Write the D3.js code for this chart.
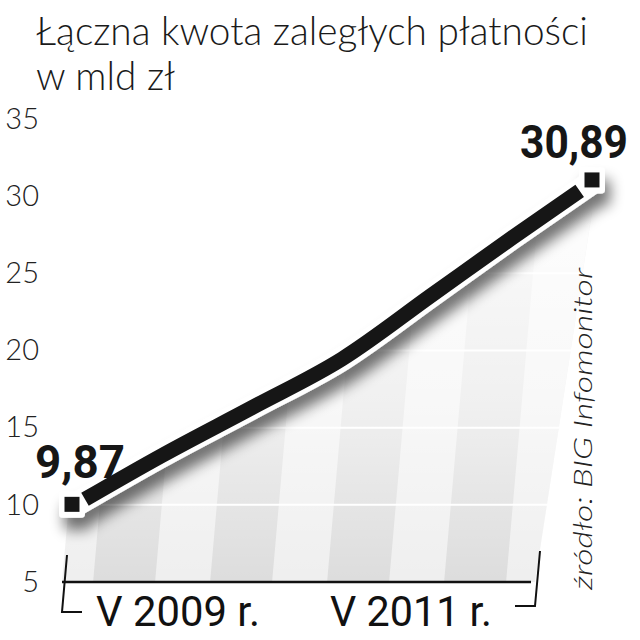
<!DOCTYPE html>
<html>
<head>
<meta charset="utf-8">
<script src="https://cdn.jsdelivr.net/npm/d3@7"></script>
<style>
  body { margin: 0; background: #fff; }
  svg { display: block; }
</style>
</head>
<body>
<div id="chart"></div>
<script>
// data (months counted from the first point)
var titleLines = ["Łączna kwota zaległych płatności", "w mld zł"];
var months = [0, 9, 18, 27, 36, 44, 52];
var values = [9.87, 13.2, 16.3, 19.45, 23.6, 27.3, 30.89];
var yTicks = [5, 10, 15, 20, 25, 30, 35];
var xTickMonths = [10.6, 33.9];
var xTickLabels = ["V 2009 r.", "V 2011 r."];
var valueLabels = ["9,87", "30,89"];
var sourceText = "źródło: BIG Infomonitor";

var width = 640,
    height = 640;

var font = "Roboto, 'Open Sans', sans-serif",
    lightFont = "Lato, Roboto, sans-serif";

var points = months.map(function(m, i){ return { m: m, v: values[i] }; });

var xScale = d3.scaleLinear().domain([0, 52]).range([72, 592]),
    yScale = d3.scaleLinear().domain([5, 35]).range([582, 119]);

var svg = d3.select("#chart").append("svg")
    .attr("width", width)
    .attr("height", height)
    .style("font-family", font);

var defs = svg.append("defs");

// slanted grey stripes under the line
var pattern = defs.append("pattern")
    .attr("id", "stripes")
    .attr("patternUnits", "userSpaceOnUse")
    .attr("width", 117)
    .attr("height", 640)
    .attr("patternTransform", "skewX(-5)");
pattern.append("rect").attr("width", 117).attr("height", 640).attr("fill", "#eeeeee");
pattern.append("rect").attr("x", 27).attr("width", 62).attr("height", 640).attr("fill", "#dbdbdb");

var fade = defs.append("linearGradient")
    .attr("id", "fade")
    .attr("gradientUnits", "userSpaceOnUse")
    .attr("x1", 0).attr("x2", 0)
    .attr("y1", 582).attr("y2", 180);
fade.append("stop").attr("offset", 0).attr("stop-color", "#fff").attr("stop-opacity", 0.05);
fade.append("stop").attr("offset", 0.45).attr("stop-color", "#fff").attr("stop-opacity", 0.6);
fade.append("stop").attr("offset", 1).attr("stop-color", "#fff").attr("stop-opacity", 0.92);

var shadow = defs.append("filter")
    .attr("id", "shadow")
    .attr("x", "-20%").attr("y", "-20%")
    .attr("width", "140%").attr("height", "160%");
shadow.append("feGaussianBlur").attr("in", "SourceAlpha").attr("stdDeviation", 7).attr("result", "blur");
shadow.append("feOffset").attr("in", "blur").attr("dx", 5).attr("dy", 12).attr("result", "off");
shadow.append("feComponentTransfer").attr("in", "off").attr("result", "soft")
    .append("feFuncA").attr("type", "linear").attr("slope", 0.55);
var merge = shadow.append("feMerge");
merge.append("feMergeNode").attr("in", "soft");
merge.append("feMergeNode").attr("in", "SourceGraphic");

// slanted box the background sits in
defs.append("clipPath").attr("id", "box")
    .append("path")
    .attr("d", "M62,582 L100,160 L600,160 L535,582 Z");

var curve = d3.curveMonotoneX;

var area = d3.area()
    .curve(curve)
    .x(function(d){ return xScale(d.m); })
    .y0(yScale(5))
    .y1(function(d){ return yScale(d.v); });

var bg = svg.append("g").attr("clip-path", "url(#box)");
var areaPts = [{ m: -1.2, v: values[0] }].concat(points);
bg.append("path").datum(areaPts).attr("d", area).attr("fill", "url(#stripes)");
bg.append("path").datum(areaPts).attr("d", area).attr("fill", "url(#fade)");

defs.append("clipPath").attr("id", "areaClip")
    .append("path").datum(areaPts).attr("d", area);

svg.append("g")
    .attr("clip-path", "url(#areaClip)")
    .selectAll("line")
    .data(yTicks.slice(1))
    .enter().append("line")
    .attr("x1", 40).attr("x2", 620)
    .attr("y1", function(d){ return yScale(d); })
    .attr("y2", function(d){ return yScale(d); })
    .attr("stroke", "#fff")
    .attr("stroke-width", 2);

// title
svg.append("g").selectAll("text")
    .data(titleLines)
    .enter().append("text")
    .attr("x", 36)
    .attr("y", function(d, i){ return 45 + i * 45; })
    .attr("font-family", lightFont)
    .attr("font-size", 40)
    .attr("font-weight", 300)
    .attr("fill", "#1a1a1a")
    .attr("textLength", function(d, i){ return i === 0 ? 552 : 139; })
    .attr("lengthAdjust", "spacingAndGlyphs")
    .text(function(d){ return d; });

// y axis labels
var yAxis = d3.axisLeft(yScale).tickValues(yTicks).tickSize(0).tickPadding(0);
var yg = svg.append("g")
    .attr("transform", "translate(39,0)")
    .call(yAxis);
yg.select(".domain").remove();
yg.selectAll("text")
    .attr("font-family", lightFont)
    .attr("font-size", 29)
    .attr("font-weight", 300)
    .attr("fill", "#222");

// bottom axis + brackets
svg.append("line")
    .attr("x1", 62).attr("x2", 531)
    .attr("y1", yScale(5)).attr("y2", yScale(5))
    .attr("stroke", "#111").attr("stroke-width", 2.5);

svg.append("path")
    .attr("d", "M67,555 L62,612 L82,612")
    .attr("fill", "none").attr("stroke", "#111").attr("stroke-width", 2);
svg.append("path")
    .attr("d", "M515,606 L535,606 L540,551")
    .attr("fill", "none").attr("stroke", "#111").attr("stroke-width", 2);

svg.append("g").selectAll("text")
    .data(xTickLabels)
    .enter().append("text")
    .attr("x", function(d, i){ return xScale(xTickMonths[i]); })
    .attr("y", 626)
    .attr("text-anchor", "middle")
    .attr("font-size", 42)
    .attr("font-weight", 400)
    .attr("fill", "#111")
    .attr("textLength", function(d, i){ return i === 0 ? 164 : 162; })
    .attr("lengthAdjust", "spacingAndGlyphs")
    .text(function(d){ return d; });

// the line
var line = d3.line()
    .curve(curve)
    .x(function(d){ return xScale(d.m); })
    .y(function(d){ return yScale(d.v); });

var ends = [points[0], points[points.length - 1]];

var under = svg.append("g").attr("filter", "url(#shadow)");
under.append("path")
    .datum(points)
    .attr("d", line)
    .attr("fill", "none")
    .attr("stroke", "#fff")
    .attr("stroke-width", 24)
    .attr("stroke-linejoin", "round");
under.selectAll("rect")
    .data(ends)
    .enter().append("rect")
    .attr("x", function(d){ return xScale(d.m) - 13; })
    .attr("y", function(d){ return yScale(d.v) - 15; })
    .attr("width", 26).attr("height", 26)
    .attr("rx", 4)
    .attr("fill", "#fff");

var black = svg.append("path")
    .datum(points)
    .attr("d", line)
    .attr("fill", "none")
    .attr("stroke", "#161616")
    .attr("stroke-width", 15)
    .attr("stroke-linejoin", "round");
var len = black.node().getTotalLength(),
    cut = 15;
black.attr("stroke-dasharray", (len - 2 * cut) + " " + len)
    .attr("stroke-dashoffset", -cut);

svg.selectAll(".marker")
    .data(ends)
    .enter().append("rect")
    .attr("class", "marker")
    .attr("x", function(d){ return xScale(d.m) - 7.5; })
    .attr("y", function(d){ return yScale(d.v) - 10; })
    .attr("width", 15).attr("height", 15)
    .attr("fill", "#161616");

// value labels
svg.append("text")
    .attr("x", xScale(points[0].m) - 37)
    .attr("y", yScale(points[0].v) - 29)
    .attr("font-size", 46)
    .attr("font-weight", 700)
    .attr("fill", "#161616")
    .attr("textLength", 90)
    .attr("lengthAdjust", "spacingAndGlyphs")
    .text(valueLabels[0]);

svg.append("text")
    .attr("x", xScale(points[points.length - 1].m) + 36)
    .attr("y", yScale(points[points.length - 1].v) - 24)
    .attr("text-anchor", "end")
    .attr("font-size", 46)
    .attr("font-weight", 700)
    .attr("fill", "#161616")
    .attr("textLength", 108)
    .attr("lengthAdjust", "spacingAndGlyphs")
    .text(valueLabels[1]);

// source
svg.append("text")
    .attr("transform", "translate(592,590) rotate(-90)")
    .attr("font-family", lightFont)
    .attr("font-size", 25)
    .attr("font-weight", 300)
    .attr("font-style", "italic")
    .attr("fill", "#222")
    .attr("textLength", 322)
    .attr("lengthAdjust", "spacingAndGlyphs")
    .text(sourceText);
</script>
</body>
</html>
